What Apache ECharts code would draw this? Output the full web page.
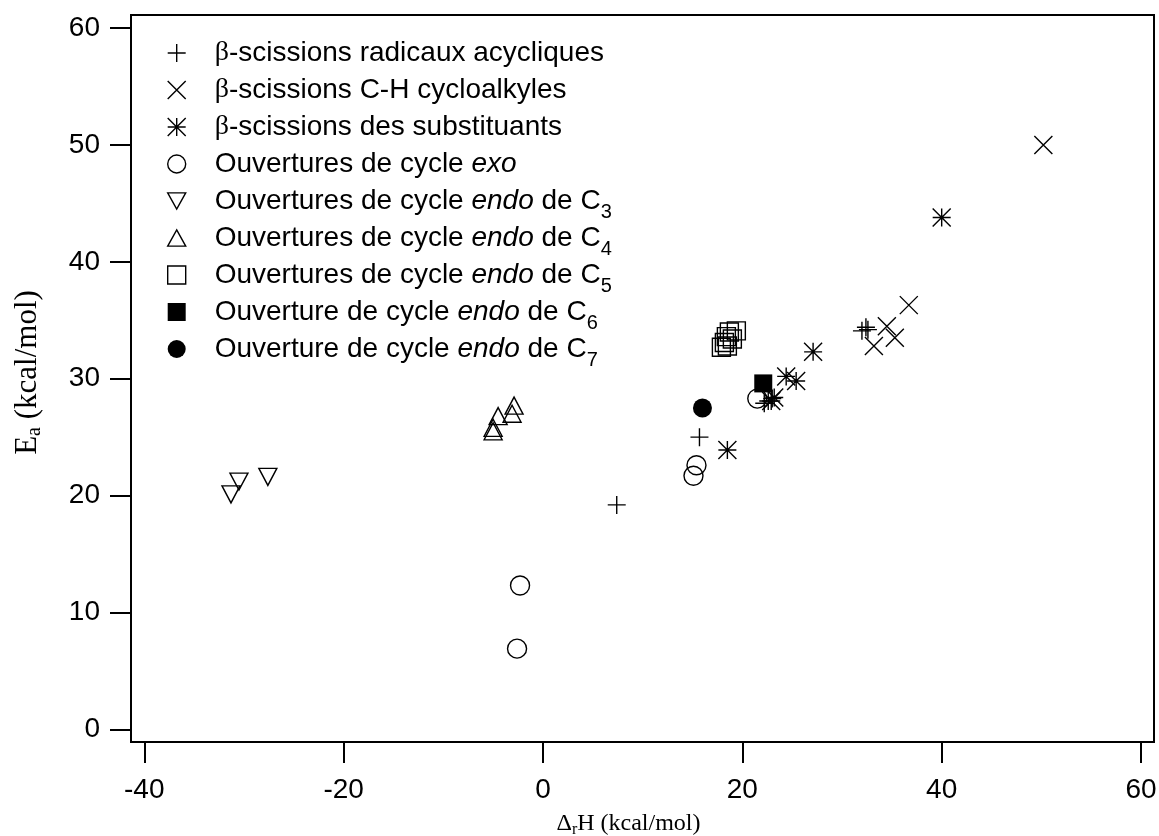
<!DOCTYPE html>
<html>
<head>
<meta charset="utf-8">
<script src="https://cdn.jsdelivr.net/npm/echarts@6/dist/echarts.min.js"></script>
<style>html,body{margin:0;padding:0;background:#fff}#c{width:1159px;height:836px}</style>
</head>
<body>
<div id="c"></div>
<script>
// ---- data (ΔrH, Ea) in kcal/mol ----
const acycX = [7.4, 15.7, 22.2, 22.6, 23.0, 32.0, 32.4, 32.6];
const acycY = [19.2, 25.0, 27.9, 28.1, 28.3, 34.1, 34.4, 34.2];
const chX = [50.2, 36.7, 34.5, 35.3, 33.2];
const chY = [50.0, 36.3, 34.5, 33.5, 32.8];
const subX = [40.0, 27.1, 24.4, 25.4, 23.2, 22.9, 18.5];
const subY = [43.8, 32.3, 30.2, 29.8, 28.4, 28.1, 23.9];
const exoX = [21.5, 15.4, 15.1, -2.3, -2.6];
const exoY = [28.3, 22.6, 21.7, 12.3, 6.9];
const c3X = [-30.5, -31.3, -27.6];
const c3Y = [21.2, 20.1, 21.6];
const c4X = [-2.9, -3.1, -4.5, -5.0, -5.0];
const c4Y = [27.7, 27.0, 26.8, 25.8, 25.5];
const c5X = [19.4, 18.7, 18.4, 18.2, 17.9, 18.5, 19.0];
const c5Y = [34.1, 34.0, 33.6, 33.1, 32.7, 32.8, 33.4];
const c6X = [22.1];
const c6Y = [29.6];
const c7X = [16.0];
const c7Y = [27.5];
const xTicks = [-40, -20, 0, 20, 40, 60];
const yTicks = [0, 10, 20, 30, 40, 50, 60];
const seriesNames = ['acyc', 'ch', 'sub', 'exo', 'c3', 'c4', 'c5', 'c6', 'c7'];
const legendLabels = {
  acyc: '{b|β}{t|-scissions radicaux acycliques}',
  ch: '{b|β}{t|-scissions C-H cycloalkyles}',
  sub: '{b|β}{t|-scissions des substituants}',
  exo: '{t|Ouvertures de cycle }{i|exo}',
  c3: '{t|Ouvertures de cycle }{i|endo}{t| de C}{s|3}',
  c4: '{t|Ouvertures de cycle }{i|endo}{t| de C}{s|4}',
  c5: '{t|Ouvertures de cycle }{i|endo}{t| de C}{s|5}',
  c6: '{t|Ouverture de cycle }{i|endo}{t| de C}{s|6}',
  c7: '{t|Ouverture de cycle }{i|endo}{t| de C}{s|7}'
};

const zip = (xs, ys) => xs.map((x, i) => [x, ys[i]]);
const INK = '#000';
const LW = 1.4;
const hollow = { color: 'rgba(0,0,0,0)', borderColor: INK, borderWidth: LW, opacity: 1 };
const filled = { color: INK, borderColor: INK, borderWidth: 0, opacity: 1 };
const sym = {
  acyc: { symbol: 'path://M5,0 L5,10 M0,5 L10,5', size: 18, style: hollow },
  ch: { symbol: 'path://M0,0 L10,10 M10,0 L0,10', size: 18, style: hollow },
  sub: { symbol: 'path://M5,0 L5,10 M0,5 L10,5 M0,0 L10,10 M10,0 L0,10', size: 18, style: hollow },
  exo: { symbol: 'circle', size: 19, style: hollow },
  c3: { symbol: 'path://M0,0 L10,0 L5,9 Z', size: [18, 17], style: hollow },
  c4: { symbol: 'path://M5,0 L10,9 L0,9 Z', size: [18, 17], style: hollow },
  c5: { symbol: 'rect', size: 18, style: hollow },
  c6: { symbol: 'rect', size: 18, style: filled },
  c7: { symbol: 'circle', size: 19, style: filled }
};
const dataMap = {
  acyc: zip(acycX, acycY), ch: zip(chX, chY), sub: zip(subX, subY), exo: zip(exoX, exoY),
  c3: zip(c3X, c3Y), c4: zip(c4X, c4Y), c5: zip(c5X, c5Y), c6: zip(c6X, c6Y), c7: zip(c7X, c7Y)
};

const series = seriesNames.map(n => ({
  name: n,
  type: 'scatter',
  data: dataMap[n],
  symbol: sym[n].symbol,
  symbolSize: sym[n].size,
  itemStyle: sym[n].style,
  emphasis: { disabled: true },
  animation: false
}));

const sans = 'Liberation Sans, Arial, Helvetica, sans-serif';
const serif = 'Liberation Serif, Times New Roman, serif';
const LH = 42;

const chart = echarts.init(document.getElementById('c'), null, { renderer: 'canvas' });
chart.setOption({
  backgroundColor: '#fff',
  animation: false,
  grid: { left: 131, right: 5, top: 15, bottom: 94, show: true, borderColor: '#000', borderWidth: 2, outerBoundsMode: 'none' },
  legend: {
    orient: 'vertical',
    left: 162,
    top: 48 - LH / 2,
    itemWidth: 18,
    itemHeight: 18,
    itemGap: 37 - LH,
    selectedMode: false,
    data: seriesNames.map(n => ({ name: n, icon: sym[n].symbol, itemStyle: sym[n].style })),
    formatter: name => legendLabels[name],
    textStyle: {
      padding: [0, 0, 0, 24],
      color: '#000',
      fontFamily: sans,
      fontSize: 28,
      lineHeight: LH,
      rich: {
        t: { fontFamily: sans, fontSize: 28, lineHeight: LH, color: '#000' },
        b: { fontFamily: serif, fontSize: 28, lineHeight: LH, color: '#000' },
        i: { fontFamily: sans, fontStyle: 'italic', fontSize: 28, lineHeight: LH, color: '#000' },
        s: { fontFamily: sans, fontSize: 20, lineHeight: 12, verticalAlign: 'bottom', color: '#000' }
      }
    }
  },
  xAxis: {
    type: 'value',
    min: -41.33, max: 61.3,
    splitLine: { show: false },
    axisLine: { show: false, onZero: false },
    axisTick: { show: true, customValues: xTicks, length: 21, lineStyle: { color: '#000', width: 2 } },
    axisLabel: { customValues: xTicks, margin: 34, fontSize: 28, fontFamily: sans, color: '#000' },
    name: '{n|Δ}{s|r}{n|H (kcal/mol)}',
    nameLocation: 'middle',
    nameGap: 68,
    nameTextStyle: {
      padding: [0, 28, 0, 0],
      rich: {
        n: { fontFamily: serif, fontSize: 24, lineHeight: 28, color: '#000' },
        s: { fontFamily: serif, fontSize: 16, lineHeight: 14, verticalAlign: 'bottom', color: '#000' }
      }
    }
  },
  yAxis: {
    type: 'value',
    min: -1.09, max: 61.13,
    splitLine: { show: false },
    axisLine: { show: false, onZero: false },
    axisTick: { show: true, customValues: yTicks, length: 21, lineStyle: { color: '#000', width: 2 } },
    axisLabel: { customValues: yTicks, margin: 31, fontSize: 28, fontFamily: sans, color: '#000' },
    name: '{n|E}{s|a}{n| (kcal/mol)}',
    nameLocation: 'middle',
    nameGap: 86,
    nameTextStyle: {
      padding: [0, 0, 0, 12],
      rich: {
        n: { fontFamily: serif, fontSize: 31, lineHeight: 34, color: '#000' },
        s: { fontFamily: serif, fontSize: 20, lineHeight: 16, verticalAlign: 'bottom', color: '#000' }
      }
    }
  },
  series: series
});
</script>
</body>
</html>
